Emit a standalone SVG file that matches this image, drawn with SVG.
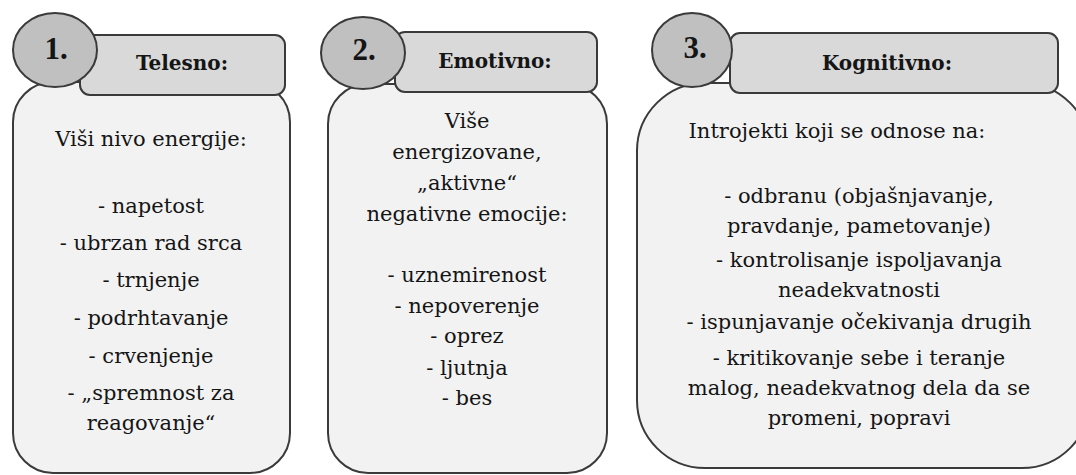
<svg xmlns="http://www.w3.org/2000/svg" width="1076" height="475" viewBox="0 0 1076 475">
<style>
.body{fill:#f2f2f2;stroke:#3a3a3a;stroke-width:2}
.tab{fill:#d9d9d9;stroke:#3a3a3a;stroke-width:2}
.num{fill:#c0c0c0;stroke:#3a3a3a;stroke-width:2}
.t{font-family:"DejaVu Serif","Liberation Serif",serif;font-size:21px;fill:#151515;text-anchor:middle}
.h{font-family:"DejaVu Serif","Liberation Serif",serif;font-size:20px;font-weight:bold;fill:#151515;text-anchor:middle}
.n{font-family:"Liberation Serif",serif;font-size:31px;font-weight:bold;fill:#151515;text-anchor:middle}
</style>
<rect width="1076" height="475" fill="#ffffff"/>
<g id="connectors"></g>
<g id="node1">
<rect class="body" x="13" y="82" width="277" height="391" rx="40"/>
<rect class="tab" x="80" y="35" width="205" height="60" rx="10"/>
<ellipse class="num" cx="55" cy="50" rx="42" ry="37"/>
<text class="n" x="56" y="59">1.</text>
<text class="h" x="182" y="70">Telesno:</text>
<text class="t" x="151" y="146">Viši nivo energije:</text>
<text class="t" x="151" y="213">- napetost</text>
<text class="t" x="151" y="250">- ubrzan rad srca</text>
<text class="t" x="151" y="287">- trnjenje</text>
<text class="t" x="151" y="325">- podrhtavanje</text>
<text class="t" x="151" y="363">- crvenjenje</text>
<text class="t" x="151" y="400">- „spremnost za</text>
<text class="t" x="151" y="430">reagovanje“</text>
</g>
<g id="node2">
<rect class="body" x="328" y="84" width="279" height="389" rx="40"/>
<rect class="tab" x="395" y="32" width="202" height="60" rx="10"/>
<ellipse class="num" cx="363" cy="53" rx="42" ry="36"/>
<text class="n" x="364" y="60">2.</text>
<text class="h" x="495" y="68">Emotivno:</text>
<text class="t" x="467" y="128">Više</text>
<text class="t" x="467" y="159">energizovane,</text>
<text class="t" x="467" y="190">„aktivne“</text>
<text class="t" x="467" y="221">negativne emocije:</text>
<text class="t" x="467" y="282">- uznemirenost</text>
<text class="t" x="467" y="313">- nepoverenje</text>
<text class="t" x="467" y="343">- oprez</text>
<text class="t" x="467" y="375">- ljutnja</text>
<text class="t" x="467" y="405">- bes</text>
</g>
<g id="node3">
<rect class="body" x="637" y="83" width="453" height="385" rx="68"/>
<rect class="tab" x="730" y="33" width="328" height="60" rx="10"/>
<ellipse class="num" cx="692" cy="50" rx="40" ry="37"/>
<text class="n" x="695" y="58">3.</text>
<text class="h" x="887" y="70">Kognitivno:</text>
<text class="t" x="837" y="138">Introjekti koji se odnose na:</text>
<text class="t" x="859" y="203">- odbranu (objašnjavanje,</text>
<text class="t" x="859" y="233">pravdanje, pametovanje)</text>
<text class="t" x="859" y="267">- kontrolisanje ispoljavanja</text>
<text class="t" x="859" y="297">neadekvatnosti</text>
<text class="t" x="859" y="329">- ispunjavanje očekivanja drugih</text>
<text class="t" x="859" y="365">- kritikovanje sebe i teranje</text>
<text class="t" x="859" y="395">malog, neadekvatnog dela da se</text>
<text class="t" x="859" y="425">promeni, popravi</text>
</g>
</svg>
